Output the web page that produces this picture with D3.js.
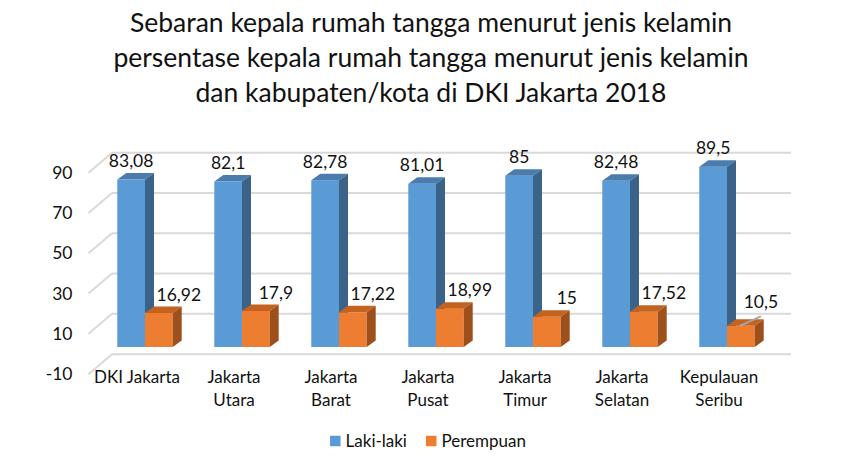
<!DOCTYPE html>
<html>
<head>
<meta charset="utf-8">
<script src="https://cdn.jsdelivr.net/npm/d3@7"></script>
<style>
  body { margin: 0; background: #fff; }
  svg text { font-family: Lato, sans-serif; fill: #111; }
</style>
</head>
<body>
<svg id="chart" width="849" height="471"></svg>
<script>
// chart data
const titleLines = [
  'Sebaran kepala rumah tangga menurut jenis kelamin',
  'persentase kepala rumah tangga menurut jenis kelamin',
  'dan kabupaten/kota di DKI Jakarta 2018'
]
const categories = ['DKI Jakarta', 'Jakarta Utara', 'Jakarta Barat', 'Jakarta Pusat', 'Jakarta Timur', 'Jakarta Selatan', 'Kepulauan Seribu']
const categoryLines = [['DKI Jakarta'], ['Jakarta', 'Utara'], ['Jakarta', 'Barat'], ['Jakarta', 'Pusat'], ['Jakarta', 'Timur'], ['Jakarta', 'Selatan'], ['Kepulauan', 'Seribu']]
const seriesNames = ['Laki-laki', 'Perempuan']
const lakiLaki = [83.08, 82.1, 82.78, 81.01, 85, 82.48, 89.5]
const perempuan = [16.92, 17.9, 17.22, 18.99, 15, 17.52, 10.5]
const yTicks = [-10, 10, 30, 50, 70, 90]

const colors = {
  'Laki-laki': { front: '#5b9bd5', top: '#4a7cae', side: '#3b6389' },
  'Perempuan': { front: '#ed7d31', top: '#c4621f', side: '#9d4f1c' }
}

const svg = d3.select('#chart')

// scales (front plane of the bars)
const x = d3.scaleBand().domain(categories).range([96.5, 775.5])
const xSub = d3.scaleBand().domain(seriesNames).range([0, x.bandwidth()]).paddingOuter(0.75)
const y = d3.scaleLinear().domain([-10, 90]).range([367.15, 165.65])

// offsets of the back wall and the front edge of the axis from the bars' plane
const back = { dx: 15.5, dy: -13 }
const front = { dx: -8, dy: 7 }
const barDepth = { dx: 9, dy: -6.5 }

const [x0, x1] = x.range()

// title
svg.append('g')
  .selectAll('text')
  .data(titleLines)
  .enter()
  .append('text')
  .attr('x', 431)
  .attr('y', (d, i) => 31.7 + i * 35)
  .attr('text-anchor', 'middle')
  .style('font-size', '26.5px')
  .text(d => d)

// gridlines on the back wall + side wall diagonals
const grid = svg.append('g').attr('class', 'grid')
  .attr('stroke', '#d9d9d9')
  .attr('stroke-width', 2)
  .attr('fill', 'none')

grid.selectAll('.h')
  .data(yTicks)
  .enter()
  .append('line')
  .attr('x1', x0 + back.dx)
  .attr('x2', x1 + back.dx)
  .attr('y1', t => y(t) + back.dy)
  .attr('y2', t => y(t) + back.dy)

grid.selectAll('.d')
  .data(yTicks)
  .enter()
  .append('line')
  .attr('x1', x0 + back.dx)
  .attr('y1', t => y(t) + back.dy)
  .attr('x2', x0 + front.dx)
  .attr('y2', t => y(t) + front.dy)

// y tick labels
svg.append('g')
  .selectAll('text')
  .data(yTicks)
  .enter()
  .append('text')
  .attr('x', 72.5)
  .attr('y', t => y(t) + front.dy)
  .attr('dy', '0.35em')
  .attr('text-anchor', 'end')
  .style('font-size', '17.5px')
  .text(t => t)

// category labels
const cat = svg.append('g')
  .selectAll('text')
  .data(categories)
  .enter()
  .append('text')
  .attr('text-anchor', 'middle')
  .style('font-size', '17px')

cat.selectAll('tspan')
  .data((c, i) => categoryLines[i].map(line => ({ c, line })))
  .enter()
  .append('tspan')
  .attr('x', d => x(d.c) + x.bandwidth() / 2 + front.dx)
  .attr('y', (d, j) => y(-10) + 10 + j * 22.5)
  .attr('dy', '0.35em')
  .text(d => d.line)

// bars
const rows = categories.map((c, i) => ({ c, values: [lakiLaki[i], perempuan[i]] }))

const groups = svg.append('g')
  .selectAll('.group')
  .data(rows)
  .enter()
  .append('g')
  .attr('class', 'group')

const bars = groups.selectAll('.bar')
  .data(r => seriesNames.map((s, k) => ({ c: r.c, s, v: r.values[k] })))
  .enter()
  .append('g')
  .attr('class', 'bar')

function geom (d) {
  const bx = x(d.c) + xSub(d.s)
  return { bx, w: xSub.bandwidth(), yt: y(d.v), yb: y(0) }
}

bars.append('rect')
  .attr('x', d => geom(d).bx)
  .attr('y', d => geom(d).yt)
  .attr('width', xSub.bandwidth())
  .attr('height', d => geom(d).yb - geom(d).yt)
  .attr('fill', d => colors[d.s].front)

bars.append('polygon')
  .attr('points', d => {
    const g = geom(d)
    return [[g.bx, g.yt], [g.bx + g.w, g.yt], [g.bx + g.w + barDepth.dx, g.yt + barDepth.dy], [g.bx + barDepth.dx, g.yt + barDepth.dy]].join(' ')
  })
  .attr('fill', d => colors[d.s].top)

bars.append('polygon')
  .attr('points', d => {
    const g = geom(d)
    const r = g.bx + g.w
    return [[r, g.yt], [r + barDepth.dx, g.yt + barDepth.dy], [r + barDepth.dx, g.yb + barDepth.dy], [r, g.yb]].join(' ')
  })
  .attr('fill', d => colors[d.s].side)

// data labels
const fmt = v => String(v).replace('.', ',')
const labels = svg.append('g')

bars.each(function (d) {
  const g = geom(d)
  let lx = g.bx + g.w / 2
  let ly = g.yt - 18.5
  if (d.s === 'Perempuan') lx += 20
  // short bar: label pushed up, Excel draws a leader line to it
  if (d.v < 12) {
    ly -= 5
    labels.append('line')
      .attr('x1', g.bx + g.w / 2 - 1)
      .attr('y1', g.yt)
      .attr('x2', lx)
      .attr('y2', ly + 14)
      .attr('stroke', '#a6a6a6')
      .attr('stroke-width', 2)
  }
  labels.append('text')
    .attr('x', lx)
    .attr('y', ly)
    .attr('dy', '0.35em')
    .attr('text-anchor', 'middle')
    .style('font-size', '17.5px')
    .text(fmt(d.v))
})

// legend
const legend = svg.append('g')
const items = legend.selectAll('g')
  .data(seriesNames)
  .enter()
  .append('g')

items.append('rect')
  .attr('width', 10.5)
  .attr('height', 10.5)
  .attr('y', -5.25)
  .attr('fill', s => colors[s].front)

items.append('text')
  .attr('x', 15.5)
  .attr('dy', '0.35em')
  .style('font-size', '17px')
  .text(s => s)

let offset = 0
items.each(function () {
  d3.select(this).attr('transform', `translate(${offset}, 0)`)
  offset += this.getBBox().width + 19
})
const legendWidth = offset - 19
legend.attr('transform', `translate(${428 - legendWidth / 2}, 441)`)
</script>
</body>
</html>
